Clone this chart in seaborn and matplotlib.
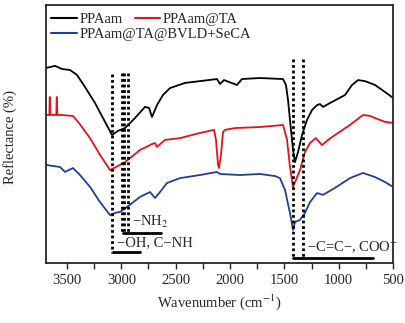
import pandas as pd
import matplotlib
matplotlib.use('Agg')
import matplotlib.pyplot as plt
import seaborn as sns
from matplotlib.ticker import MultipleLocator
from matplotlib.lines import Line2D

# FTIR spectra (wavenumber, reflectance in arbitrary %)
ppaam_wn = [3693, 3610, 3546, 3472, 3408, 3334, 3242, 3150, 3086, 3031, 2966, 2874,
            2782, 2745, 2718, 2672, 2617, 2552, 2414, 2276, 2120, 2092, 2055, 1936,
            1890, 1724, 1512, 1485, 1466, 1448, 1420, 1402, 1374, 1337, 1292, 1245,
            1199, 1172, 1144, 1080, 942, 877, 822, 758, 666, 574, 500]
ppaam_r = [75.6, 76.4, 75.2, 74.8, 72.9, 68.2, 62.0, 54.7, 49.6, 51.2, 52.3, 56.2,
           60.5, 60.1, 56.6, 61.2, 65.1, 67.8, 69.8, 70.5, 71.3, 69.4, 70.9, 69.0,
           71.3, 71.7, 71.3, 69.0, 63.2, 55.4, 43.8, 39.1, 43.0, 49.6, 55.4, 59.3,
           61.2, 61.6, 60.5, 62.0, 65.1, 69.0, 70.9, 70.5, 69.0, 66.3, 64.0]

ta_wn = [3693, 3662, 3659, 3656, 3653, 3598, 3595, 3592, 3589, 3564, 3445, 3390,
         3288, 3196, 3104, 3031, 2966, 2828, 2718, 2690, 2672, 2598, 2460, 2276,
         2147, 2129, 2110, 2101, 2083, 2064, 2046, 1954, 1724, 1512, 1475, 1448,
         1420, 1393, 1356, 1310, 1264, 1209, 1153, 1098, 1034, 896, 776, 712, 666,
         574, 500]
ta_r = [57.4, 57.4, 64.3, 64.3, 57.4, 57.4, 64.3, 64.3, 57.4, 57.4, 57.0, 54.3,
        48.4, 41.9, 36.0, 37.6, 39.1, 43.8, 46.1, 46.5, 45.0, 47.7, 48.4, 50.4,
        51.6, 47.7, 38.0, 36.8, 41.9, 50.8, 51.6, 52.3, 52.7, 53.5, 47.7, 37.2,
        29.5, 32.2, 36.0, 43.0, 46.5, 48.4, 45.7, 47.7, 49.6, 53.5, 57.4, 57.0,
        56.2, 54.7, 54.3]

seca_wn = [3693, 3564, 3518, 3445, 3380, 3288, 3196, 3104, 3058, 3012, 2948, 2828,
           2736, 2690, 2644, 2580, 2460, 2276, 2120, 2092, 1908, 1724, 1586, 1540,
           1494, 1448, 1420, 1402, 1356, 1310, 1264, 1199, 1144, 1034, 896, 776,
           666, 574, 500]
seca_r = [38.0, 37.2, 35.3, 36.8, 34.1, 29.5, 23.6, 18.6, 19.4, 19.8, 21.7, 25.6,
          27.5, 25.2, 27.5, 31.0, 32.9, 34.1, 35.3, 34.5, 34.1, 34.5, 33.7, 32.9,
          28.3, 19.4, 12.8, 15.9, 16.7, 19.4, 23.6, 27.1, 26.4, 29.1, 32.9, 34.9,
          33.3, 31.4, 29.5]

labels = ['PPAam', 'PPAam@TA', 'PPAam@TA@BVLD+SeCA']
colors = ['black', '#e3121b', '#1f3f98']

# band markers
oh_line = 3086
nh2_lines = [2998, 2971, 2943]
cc_lines = [1423, 1331]

sns.set_style('ticks')
plt.rcParams['font.family'] = ['Liberation Serif', 'DejaVu Serif']
plt.rcParams['mathtext.fontset'] = 'stix'

fig = plt.figure(figsize=(4.05, 3.23), dpi=100)
ax = fig.add_axes([0.1136, 0.1858, 0.8568, 0.7987])

series = [(ppaam_wn, ppaam_r), (ta_wn, ta_r), (seca_wn, seca_r)]
for (wn, r), lab, c in zip(series, labels, colors):
    d = pd.DataFrame({'wn': wn, 'r': r})
    sns.lineplot(data=d, x='wn', y='r', color=c, lw=1.3, ax=ax,
                 sort=False, estimator=None, legend=False)

dot = dict(color='black', lw=2.0, ls=(0, (1, 1)))
ax.plot([oh_line, oh_line], [73.3, 3.9], **dot)
for x in nh2_lines:
    ax.plot([x, x], [73.6, 11.6], **dot)
for x in cc_lines:
    ax.plot([x, x], [79.1, 2.3], **dot)

ax.plot([3077, 2828], [4.3, 4.3], color='black', lw=2)
ax.plot([2985, 2635], [11.6, 11.6], color='black', lw=2)
ax.plot([1420, 684], [1.9, 1.9], color='black', lw=2)

ax.text(2902, 15.9, '−NH$_2$', fontsize=10.5, va='center', ha='left')
ax.text(3040, 7.8, '−OH, C−NH', fontsize=10.5, va='center', ha='left')
ax.text(1292, 6.2, '−C=C−, COO$^{-}$', fontsize=10.5, va='center', ha='left')

ax.set_xlim(3693, 500)
ax.set_ylim(0, 100)
ax.xaxis.set_major_locator(MultipleLocator(500))
ax.xaxis.set_minor_locator(MultipleLocator(250))
ax.tick_params(axis='x', which='major', direction='out', length=4.5, width=1, labelsize=10.5)
ax.tick_params(axis='x', which='minor', direction='out', length=4.5, width=1)
ax.set_yticks([])
for s in ax.spines.values():
    s.set_linewidth(1.3)
    s.set_visible(True)

ax.set_xlabel('Wavenumber (cm$^{-1}$)', fontsize=10.5)
ax.set_ylabel('Reflectance (%)', fontsize=10.5)
ax.yaxis.set_label_coords(-0.085, 0.49)

h = [Line2D([], [], color=c, lw=1.5) for c in colors]
leg1 = ax.legend([h[0], h[1]], labels[:2], ncol=2, frameon=False, loc='upper left',
                 bbox_to_anchor=(-0.01, 1.005), fontsize=10.5, handlelength=1.75,
                 handletextpad=0.2, columnspacing=0.8, borderaxespad=0.2)
ax.add_artist(leg1)
ax.legend([h[2]], labels[2:], frameon=False, loc='upper left',
          bbox_to_anchor=(-0.01, 0.945), fontsize=10.5, handlelength=1.75,
          handletextpad=0.2, borderaxespad=0.2)

fig.savefig('out.png', dpi=100)
